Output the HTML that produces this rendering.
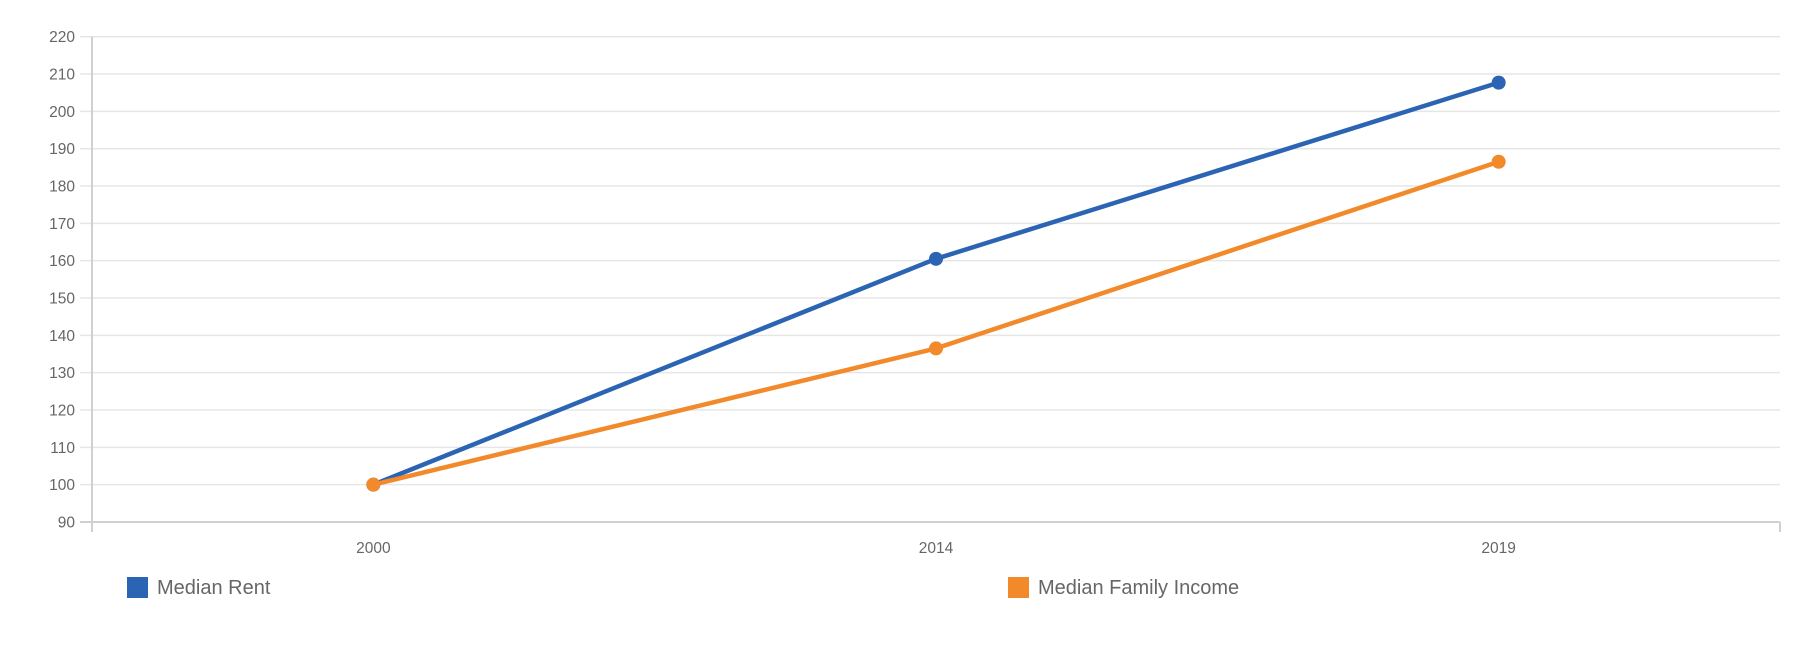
<!DOCTYPE html>
<html><head><meta charset="utf-8"><style>
html,body{margin:0;padding:0;background:#fff;}
svg{display:block;font-family:"Liberation Sans",sans-serif;}
</style></head><body>
<svg id="chart" width="1800" height="646"></svg>
<script>
const categories = ["2000","2014","2019"];
const rentValues = [100, 160.5, 207.7];
const incomeValues = [100, 136.5, 186.5];
const yTicks = [90,100,110,120,130,140,150,160,170,180,190,200,210,220];
const seriesNames = ["Median Rent","Median Family Income"];

const NS="http://www.w3.org/2000/svg";
const svgEl=document.getElementById('chart');
const plotLeft=92,plotRight=1780,plotTop=36.7,plotBottom=522,yMin=90,yMax=220;
const band=(plotRight-plotLeft)/categories.length;
function xPos(i){return plotLeft+band*(i+0.5);}
function yPos(v){return plotBottom-(v-yMin)/(yMax-yMin)*(plotBottom-plotTop);}
function mk(tag,attrs){const e=document.createElementNS(NS,tag);for(const k in attrs)e.setAttribute(k,attrs[k]);svgEl.appendChild(e);return e;}

yTicks.forEach(t=>{
  const g=mk('line',{x1:plotLeft-12,x2:plotRight,y1:yPos(t),y2:yPos(t),stroke:t===yMin?'#d0d0d0':'#e6e6e6','stroke-width':t===yMin?2:1.5});
  
  
  const l=mk('text',{x:75,y:yPos(t)+5.5,'text-anchor':'end','font-size':15.5,fill:'#666'});
  l.textContent=t;
  
  
});
const ax=mk('line',{x1:plotLeft,x2:plotLeft,y1:plotTop,y2:plotBottom+10,stroke:'#d0d0d0','stroke-width':2});


const rt=mk('line',{x1:plotRight,x2:plotRight,y1:plotBottom,y2:plotBottom+10,stroke:'#d0d0d0','stroke-width':2});


categories.forEach((c,i)=>{
  const t=mk('text',{x:xPos(i),y:553,'text-anchor':'middle','font-size':15.5,fill:'#666'});
  t.textContent=c;
  
  
});
function series(vals,color,name){
  const pts=vals.map((v,i)=>xPos(i)+','+yPos(v)).join(' ');
  const p=mk('polyline',{points:pts,fill:'none',stroke:color,'stroke-width':4.5,'stroke-linejoin':'round'});
  
  
  vals.forEach((v,i)=>{
    const c=mk('circle',{cx:xPos(i),cy:yPos(v),r:7,fill:color});
    
    
  });
}
series(rentValues,'#2b64b3','median-rent');
series(incomeValues,'#f28a2b','median-family-income');
const legendX=[127,1008],legendColors=['#2b64b3','#f28a2b'];
seriesNames.forEach((n,i)=>{
  const r=mk('rect',{x:legendX[i],y:577,width:21,height:21,fill:legendColors[i]});
  
  
  const t=mk('text',{x:legendX[i]+30,y:594,'font-size':20,fill:'#666'});
  t.textContent=n;
  
  
});
</script>
</body></html>
